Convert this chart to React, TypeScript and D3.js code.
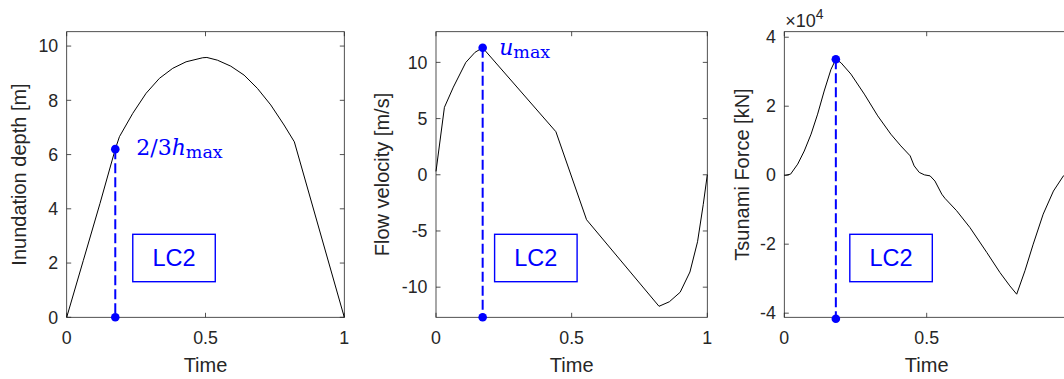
import React from 'react';
import * as d3 from 'd3';

// inundation depth h(t), metres
const depthTime = [0, 0.06, 0.12, 0.175, 0.19, 0.238, 0.286, 0.334, 0.382, 0.43, 0.49, 0.505, 0.543, 0.591, 0.639, 0.687, 0.735, 0.783, 0.82, 1];
const depthValues = [0, 2.1, 4.2, 6.2, 6.66, 7.52, 8.26, 8.81, 9.18, 9.42, 9.57, 9.58, 9.48, 9.26, 8.93, 8.44, 7.83, 7.09, 6.47, 0];

// flow velocity u(t), m/s
const velocityTime = [0, 0.031, 0.064, 0.11, 0.144, 0.172, 0.442, 0.555, 0.822, 0.86, 0.9, 0.936, 0.964, 0.985, 1];
const velocityValues = [0.3, 6.0, 7.8, 10.0, 10.9, 11.3, 3.83, -4.0, -11.7, -11.3, -10.45, -8.65, -5.96, -2.66, 0];

// tsunami force F(t), x10^4 kN
const forceTime = [0, 0.005, 0.022, 0.047, 0.07, 0.094, 0.117, 0.14, 0.164, 0.181, 0.199, 0.234, 0.281, 0.328, 0.374, 0.409, 0.442, 0.456, 0.474, 0.492, 0.512, 0.529, 0.553, 0.564, 0.605, 0.652, 0.711, 0.757, 0.792, 0.816, 0.845, 0.874, 0.909, 0.945, 0.98, 1];
const forceValues = [0, 0, 0.03, 0.32, 0.7, 1.19, 1.77, 2.44, 3.07, 3.36, 3.26, 2.93, 2.35, 1.72, 1.19, 0.85, 0.56, 0.27, 0.08, 0.01, -0.02, -0.17, -0.55, -0.67, -1.03, -1.52, -2.24, -2.82, -3.21, -3.45, -2.77, -2.0, -1.13, -0.46, -0.02, 0.08];

const timeTicks = [0, 0.5, 1];
const timeTickLabels = ['0', '0.5', '1'];
const depthTicks = [0, 2, 4, 6, 8, 10];
const velocityTicks = [-10, -5, 0, 5, 10];
const forceTicks = [-4, -2, 0, 2, 4];

const W = 1064;
const H = 379;
const TOP = 31.7;
const BOTTOM = 317.3;
const BLUE = '#0000ff';
const INK = '#262626';
const SANS = '"Liberation Sans", Arial, sans-serif';
const SERIF = '"DejaVu Serif", serif';

const panels = [
  {
    key: 'depth', time: depthTime, values: depthValues, left: 66.7, right: 344.3,
    yDomain: [0, 10.53], yTicks: depthTicks, yLabel: 'Inundation depth [m]', labelX: 19,
    markTime: 0.175, markValue: 6.2, markBottom: 0, boxTime: 0.238,
    note: { dx: 21, dy: 6, main: '2/3', ital: 'h', sub: 'max' },
  },
  {
    key: 'velocity', time: velocityTime, values: velocityValues, left: 436, right: 707.3,
    yDomain: [-12.68, 12.73], yTicks: velocityTicks, yLabel: 'Flow velocity [m/s]', labelX: 381.7,
    markTime: 0.172, markValue: 11.3, markBottom: -12.68, boxTime: 0.216,
    note: { dx: 16.5, dy: 7, main: '', ital: 'u', sub: 'max' },
  },
  {
    key: 'force', time: forceTime, values: forceValues, left: 784.3, right: 1069.1,
    yDomain: [-4.12, 4.16], yTicks: forceTicks, yLabel: 'Tsunami Force [kN]', labelX: 741.7,
    markTime: 0.181, markValue: 3.36, markBottom: -4.16, boxTime: 0.23,
    note: null,
  },
];

const Panel: React.FC<{ p: typeof panels[number] }> = ({ p }) => {
  const x = d3.scaleLinear().domain([0, 1]).range([p.left, p.right]);
  const y = d3.scaleLinear().domain(p.yDomain).range([BOTTOM, TOP]);
  const line = d3.line<number>().x((_, i) => x(p.time[i])).y(d => y(d));
  const mx = x(p.markTime);
  const my = y(p.markValue);
  const by = y(p.markBottom);
  const bx = x(p.boxTime);
  const tl = 4.5;
  const midX = (p.left + p.right) / 2;
  return (
    <g>
      <rect x={p.left} y={TOP} width={p.right - p.left} height={BOTTOM - TOP} fill="#fff" stroke={INK} strokeWidth={0.8} />
      {timeTicks.map((t, i) => (
        <g key={'xt' + t}>
          <line x1={x(t)} x2={x(t)} y1={BOTTOM} y2={BOTTOM - tl} stroke={INK} strokeWidth={0.8} />
          <line x1={x(t)} x2={x(t)} y1={TOP} y2={TOP + tl} stroke={INK} strokeWidth={0.8} />
          <text x={x(t)} y={344} textAnchor="middle" fontSize={17.8} fill={INK} fontFamily={SANS}>{timeTickLabels[i]}</text>
        </g>
      ))}
      {p.yTicks.map(v => (
        <g key={'yt' + v}>
          <line x1={p.left} x2={p.left + tl} y1={y(v)} y2={y(v)} stroke={INK} strokeWidth={0.8} />
          <line x1={p.right} x2={p.right - tl} y1={y(v)} y2={y(v)} stroke={INK} strokeWidth={0.8} />
          <text x={p.left - 8.5} y={y(v)} dy="0.35em" textAnchor="end" fontSize={17.8} fill={INK} fontFamily={SANS}>{String(v)}</text>
        </g>
      ))}
      <text x={midX} y={372} textAnchor="middle" fontSize={20} fill={INK} fontFamily={SANS}>Time</text>
      <text transform={`translate(${p.labelX},${(TOP + BOTTOM) / 2}) rotate(-90)`} dy="0.35em" textAnchor="middle" fontSize={20} fill={INK} fontFamily={SANS}>{p.yLabel}</text>
      <path d={line(p.values) || ''} fill="none" stroke="#000" strokeWidth={1} />
      <line x1={mx} x2={mx} y1={my} y2={by} stroke={BLUE} strokeWidth={2} strokeDasharray="10,4" />
      <circle cx={mx} cy={my} r={4.3} fill={BLUE} />
      <circle cx={mx} cy={by} r={4.3} fill={BLUE} />
      <rect x={bx} y={234.3} width={82.5} height={47.4} fill="none" stroke={BLUE} strokeWidth={1.4} />
      <text x={bx + 41.2} y={258} dy="0.35em" textAnchor="middle" fontSize={23.5} fill={BLUE} fontFamily={SANS}>LC2</text>
      {p.note && (
        <text x={mx + p.note.dx} y={my + p.note.dy} fill={BLUE} fontFamily={SERIF}>
          {p.note.main && <tspan fontSize={22}>{p.note.main}</tspan>}
          <tspan fontSize={22} fontStyle="italic">{p.note.ital}</tspan>
          <tspan fontSize={17.5} dy={3}>{p.note.sub}</tspan>
        </text>
      )}
      {p.key === 'force' && (
        <text x={p.left + 1} y={27} fill={INK} fontFamily={SANS}>
          <tspan fontSize={18}>{'\u00d710'}</tspan>
          <tspan fontSize={14} dy={-8}>4</tspan>
        </text>
      )}
    </g>
  );
};

const App: React.FC = () => (
  <svg width={W} height={H} style={{ position: 'absolute', left: 0, top: 0, background: '#fff' }}>
    {panels.map(p => <Panel key={p.key} p={p} />)}
  </svg>
);

export default App;
